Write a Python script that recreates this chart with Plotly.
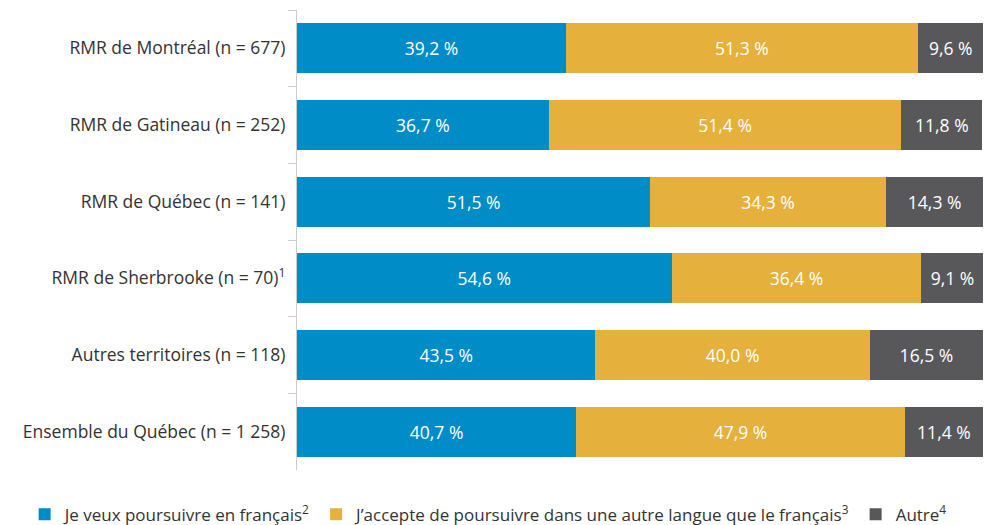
import plotly.graph_objects as go

categories = [
    "RMR de Montréal (n = 677)",
    "RMR de Gatineau (n = 252)",
    "RMR de Québec (n = 141)",
    "RMR de Sherbrooke (n = 70)<sup>1</sup>",
    "Autres territoires (n = 118)",
    "Ensemble du Québec (n = 1 258)",
]
francais = [39.2, 36.7, 51.5, 54.6, 43.5, 40.7]
autre_langue = [51.3, 51.4, 34.3, 36.4, 40.0, 47.9]
autre = [9.6, 11.8, 14.3, 9.1, 16.5, 11.4]

series_names = [
    "Je veux poursuivre en français<sup>2</sup>",
    "J’accepte de poursuivre dans une autre langue que le français<sup>3</sup>",
    "Autre<sup>4</sup>",
]
colors = ["#008CC6", "#E5B03B", "#58585A"]

FONT = "Open Sans"


def fmt(v):
    return f"{v:.1f}".replace(".", ",") + " %"


fig = go.Figure()
for name, vals, col in zip(series_names, [francais, autre_langue, autre], colors):
    fig.add_trace(go.Bar(
        y=categories, x=vals, orientation="h", name=name,
        marker=dict(color=col, line=dict(width=0)),
        text=[fmt(v) for v in vals], textposition="inside",
        insidetextanchor="middle",
        textfont=dict(color="white", size=17.5, family=FONT),
        hoverinfo="skip",
    ))

fig.update_layout(
    barmode="stack",
    bargap=0.35,
    width=984, height=525,
    margin=dict(l=297, r=1, t=10, b=55, autoexpand=False),
    plot_bgcolor="white", paper_bgcolor="white",
    font=dict(family=FONT, size=17, color="#333333"),
    showlegend=True,
    legend=dict(
        orientation="h", xref="paper", yref="paper",
        x=-0.397, y=-0.058, xanchor="left", yanchor="top",
        font=dict(size=17, color="#333333", family=FONT),
        itemwidth=30, traceorder="normal",
    ),
    uniformtext=dict(mode=None),
)
fig.update_xaxes(range=[0, 100], visible=False)
fig.update_yaxes(
    autorange="reversed", showline=True, linecolor="#cccccc", linewidth=1,
    ticks="outside", tickson="boundaries", ticklen=8, tickcolor="#cccccc",
    showgrid=False, ticklabelstandoff=7, automargin=False,
    tickfont=dict(size=17.5, color="#333333", family=FONT),
)

fig.write_html(
    "out.html",
    config={"responsive": False, "displayModeBar": False},
    post_script="document.body.style.margin='0';document.body.style.overflow='hidden';",
)
